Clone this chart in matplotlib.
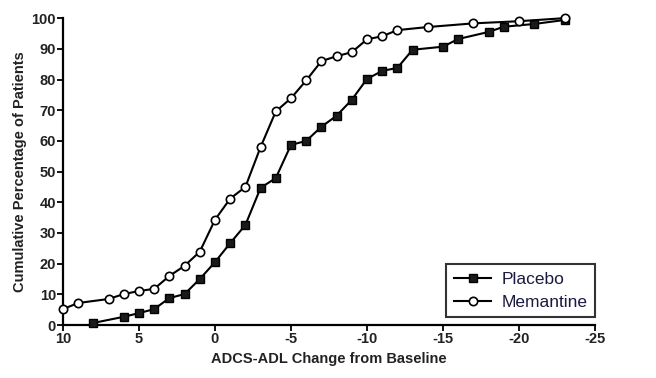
import matplotlib
matplotlib.use("Agg")
import matplotlib.pyplot as plt
from matplotlib import font_manager

names = {f.name for f in font_manager.fontManager.ttflist}
fam = ['Liberation Sans Narrow', 'Liberation Sans', 'DejaVu Sans'] if 'Liberation Sans Narrow' in names else ['Liberation Sans', 'DejaVu Sans']
plt.rcParams['font.family'] = fam

placebo_x = [8, 6, 5, 4, 3, 2, 1, 0, -1, -2, -3, -4, -5, -6, -7, -8, -9, -10, -11, -12, -13, -15, -16, -18, -19, -21, -23]
placebo_y = [0.7, 2.7, 3.9, 5.2, 8.8, 10.1, 15.0, 20.5, 26.7, 32.6, 44.7, 47.9, 58.7, 60.0, 64.6, 68.2, 73.4, 80.2, 82.8, 83.8, 89.7, 90.7, 93.2, 95.5, 97.2, 98.1, 99.4]

memantine_x = [10, 9, 7, 6, 5, 4, 3, 2, 1, 0, -1, -2, -3, -4, -5, -6, -7, -8, -9, -10, -11, -12, -14, -17, -20, -23]
memantine_y = [5.2, 7.2, 8.5, 10.1, 11.1, 11.8, 16.0, 19.3, 23.9, 34.3, 41.2, 45.0, 58.0, 69.6, 73.9, 79.7, 86.0, 87.6, 88.9, 93.1, 94.1, 96.1, 97.1, 98.3, 99.0, 100.0]

x_ticks = [10, 5, 0, -5, -10, -15, -20, -25]
y_ticks = [0, 10, 20, 30, 40, 50, 60, 70, 80, 90, 100]

fig = plt.figure(figsize=(6.56, 3.78), dpi=100)
ax = fig.add_axes([0.096, 0.140, 0.811, 0.812])

ax.plot(placebo_x, placebo_y, color='black', lw=1.5, marker='s', ms=5.5,
        mfc='#1a1a1a', mec='black', label='Placebo', clip_on=False, zorder=3)
ax.plot(memantine_x, memantine_y, color='black', lw=1.5, marker='o', ms=6,
        mfc='white', mec='black', mew=1.2, label='Memantine', clip_on=False, zorder=4)

ax.set_xlim(10, -25)
ax.set_ylim(0, 100)
ax.set_xticks(x_ticks)
ax.set_xticklabels([str(v) for v in x_ticks])
ax.set_yticks(y_ticks)
ax.spines['top'].set_visible(False)
ax.spines['right'].set_visible(False)
for s in ['left', 'bottom']:
    ax.spines[s].set_linewidth(1.6)
ax.tick_params(axis='both', length=4, width=1.3, labelsize=10.5, pad=1)
for lbl in ax.get_xticklabels() + ax.get_yticklabels():
    lbl.set_fontweight('bold')
    lbl.set_color('#222222')

ax.set_xlabel('ADCS-ADL Change from Baseline', fontsize=10.5, fontweight='bold', color='#222222', labelpad=4)
ax.set_ylabel('Cumulative Percentage of Patients', fontsize=10.5, fontweight='bold', color='#222222', labelpad=3)

leg = ax.legend(loc='lower right', bbox_to_anchor=(1.0, 0.025), fontsize=12.5, frameon=True,
                fancybox=False, edgecolor='black', borderpad=0.45, handlelength=2.1,
                handletextpad=0.6, labelspacing=0.45, borderaxespad=0)
leg.get_frame().set_linewidth(1.5)
for t in leg.get_texts():
    t.set_color('#1a1a40')

fig.savefig('out.png', dpi=100)
